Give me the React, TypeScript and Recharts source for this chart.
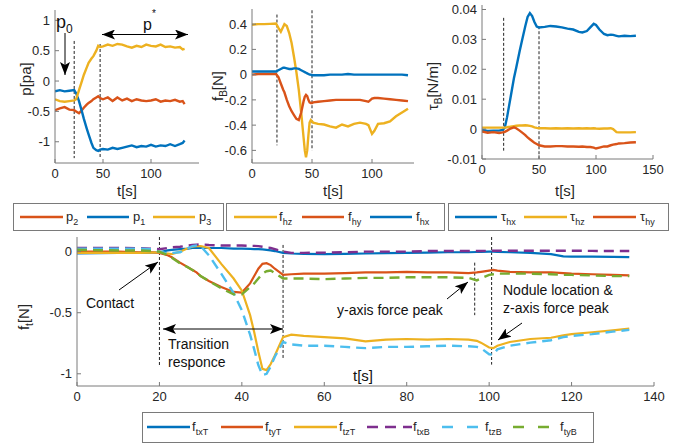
import React from 'react';
import { LineChart, Line, XAxis, YAxis, ReferenceLine } from 'recharts';

// ---------- data: top-left (pressure) ----------
const T_P = [0,5,10,15,20,22,25,28,30,33,35,38,40,43,45,47,50,55,60,65,70,75,80,85,90,95,100,105,110,115,120,125,130,133,135];
const P2 = [-0.48,-0.45,-0.43,-0.47,-0.48,-0.5,-0.53,-0.48,-0.44,-0.39,-0.36,-0.33,-0.3,-0.27,-0.25,-0.28,-0.3,-0.27,-0.33,-0.27,-0.32,-0.29,-0.33,-0.3,-0.32,-0.33,-0.32,-0.3,-0.34,-0.32,-0.33,-0.31,-0.34,-0.33,-0.38];
const P1 = [-0.17,-0.15,-0.17,-0.16,-0.15,-0.2,-0.33,-0.5,-0.62,-0.78,-0.88,-1.02,-1.1,-1.14,-1.15,-1.13,-1.12,-1.13,-1.1,-1.12,-1.1,-1.08,-1.06,-1.09,-1.07,-1.08,-1.05,-1.08,-1.06,-1.07,-1.04,-1.07,-1.04,-1.02,-0.98];
const P3 = [-0.3,-0.33,-0.34,-0.33,-0.32,-0.3,-0.15,0.0,0.1,0.22,0.3,0.37,0.41,0.5,0.58,0.56,0.57,0.6,0.58,0.61,0.6,0.57,0.55,0.58,0.56,0.6,0.58,0.57,0.6,0.56,0.57,0.55,0.56,0.52,0.53];

// ---------- data: top-middle (f_B) ----------
const T_F = [0,5,10,15,20,22,24,26,27,29,31,33,35,37,39,41,43,44,45,46,47,48,49,50,51,55,60,65,70,75,80,85,90,95,97,100,102,105,110,115,120,125,130];
const FHZ = [0.395,0.4,0.4,0.402,0.405,0.37,0.34,0.38,0.4,0.385,0.33,0.25,0.14,0.02,-0.12,-0.3,-0.5,-0.6,-0.655,-0.6,-0.48,-0.38,-0.36,-0.37,-0.38,-0.39,-0.395,-0.41,-0.42,-0.395,-0.41,-0.39,-0.38,-0.39,-0.4,-0.47,-0.445,-0.39,-0.385,-0.37,-0.33,-0.3,-0.27];
const FHY = [0.0,0.005,0.005,0.005,0.005,-0.02,-0.07,-0.12,-0.14,-0.2,-0.25,-0.29,-0.32,-0.35,-0.36,-0.3,-0.21,-0.175,-0.16,-0.17,-0.2,-0.22,-0.225,-0.225,-0.22,-0.215,-0.21,-0.205,-0.2,-0.2,-0.2,-0.2,-0.2,-0.21,-0.215,-0.19,-0.185,-0.185,-0.19,-0.195,-0.2,-0.205,-0.21];
const FHX = [0.025,0.025,0.025,0.025,0.025,0.035,0.045,0.055,0.055,0.05,0.045,0.045,0.05,0.05,0.045,0.035,0.025,0.02,0.015,0.01,0.005,0.0,0.0,-0.005,-0.005,-0.005,-0.005,0.0,0.0,0.0,0.005,0.0,0.0,0.0,0.0,0.0,0.0,0.0,0.0,0.0,0.0,0.0,-0.005];

// ---------- data: top-right (tau_B) ----------
const T_T = [0,5,10,15,18,20,22,25,28,30,33,35,38,40,42,44,46,48,50,55,60,65,70,75,80,85,88,92,95,98,100,103,107,110,113,115,118,120,125,130,135];
const THX = [-0.0003,-0.0006,-0.0005,-0.0005,-0.0003,0.0005,0.004,0.0105,0.017,0.0205,0.026,0.0295,0.0345,0.0375,0.0388,0.0378,0.0358,0.0343,0.034,0.0342,0.0345,0.0343,0.034,0.0336,0.0333,0.0325,0.0323,0.0328,0.034,0.0352,0.0348,0.0333,0.0318,0.0314,0.0316,0.0315,0.0312,0.031,0.0312,0.0311,0.0312];
const THZ = [0.0005,0.0005,0.0005,0.0005,0.0005,0.0005,0.0006,0.0008,0.001,0.0011,0.0012,0.0012,0.0013,0.0012,0.0011,0.0009,0.0006,0.0004,0.0003,0.0003,0.0002,0.0003,0.0002,0.0003,0.0002,0.0003,0.0002,0.0003,0.0002,0.0003,0.0002,0.0001,0.0002,0.0002,0.0003,0.0,-0.001,-0.0011,-0.0011,-0.0011,-0.001];
const THY = [-0.0008,-0.0012,-0.001,-0.0013,-0.0011,-0.0009,-0.0005,0.0002,0.0006,0.0003,-0.0005,-0.0011,-0.002,-0.0028,-0.0034,-0.004,-0.0046,-0.005,-0.0054,-0.0058,-0.0058,-0.0057,-0.0057,-0.0058,-0.0058,-0.0059,-0.0058,-0.006,-0.006,-0.0062,-0.0065,-0.0062,-0.0058,-0.0058,-0.0054,-0.0052,-0.005,-0.0048,-0.0047,-0.0045,-0.0044];

// ---------- data: bottom (f_t) ----------
const T_B = [0,5,10,15,18,20,22,23,25,27,28,29,30,32,35,38,40,42,43,44,45,46,47,48,50,52,55,60,65,70,75,80,85,90,95,97,98,100,101,102,105,110,115,118,120,125,130,134];
const FTXT = [-0.015,-0.012,-0.01,-0.01,-0.008,-0.005,0.01,0.015,0.02,0.025,0.03,0.03,0.03,0.03,0.03,0.025,0.025,0.022,0.02,0.02,0.018,0.015,0.01,0.005,-0.01,-0.015,-0.018,-0.02,-0.018,-0.015,-0.012,-0.01,-0.008,-0.005,-0.005,-0.003,-0.002,0.0,0.0,-0.002,-0.005,-0.01,-0.02,-0.038,-0.04,-0.04,-0.042,-0.045];
const FTYT = [0,0,0,-0.005,-0.005,-0.01,-0.03,-0.045,-0.09,-0.13,-0.15,-0.17,-0.2,-0.24,-0.29,-0.33,-0.335,-0.26,-0.2,-0.14,-0.1,-0.095,-0.11,-0.14,-0.19,-0.185,-0.18,-0.18,-0.175,-0.17,-0.17,-0.165,-0.17,-0.17,-0.175,-0.17,-0.165,-0.155,-0.15,-0.155,-0.165,-0.17,-0.17,-0.175,-0.18,-0.185,-0.19,-0.195];
const FTZT = [-0.01,-0.01,-0.01,-0.01,-0.008,-0.005,-0.015,-0.02,0.0,0.03,0.04,0.045,0.045,0.03,-0.1,-0.22,-0.32,-0.52,-0.66,-0.82,-0.96,-0.97,-0.92,-0.85,-0.7,-0.68,-0.69,-0.7,-0.71,-0.735,-0.72,-0.715,-0.72,-0.715,-0.72,-0.73,-0.745,-0.785,-0.79,-0.77,-0.74,-0.715,-0.705,-0.685,-0.675,-0.66,-0.645,-0.63];
const FTXB = [0.03,0.03,0.03,0.028,0.025,0.02,0.03,0.035,0.04,0.05,0.055,0.058,0.06,0.055,0.05,0.05,0.05,0.048,0.047,0.045,0.04,0.035,0.03,0.02,0.0,-0.01,-0.01,-0.008,-0.005,0.0,0.0,0.0,0.005,0.005,0.005,0.005,0.005,0.008,0.008,0.008,0.008,0.008,0.008,0.008,0.008,0.006,0.005,0.005];
const FTZB = [0.025,0.025,0.025,0.025,0.02,0.0,-0.015,-0.01,-0.005,0.03,0.045,0.05,0.045,-0.03,-0.18,-0.34,-0.48,-0.68,-0.8,-0.93,-1.01,-1.0,-0.94,-0.86,-0.74,-0.76,-0.77,-0.77,-0.78,-0.79,-0.78,-0.78,-0.775,-0.77,-0.775,-0.78,-0.79,-0.84,-0.845,-0.8,-0.77,-0.745,-0.725,-0.7,-0.69,-0.675,-0.655,-0.64];
const FTYB = [0.015,0.012,0.01,0.01,0.005,0.0,-0.03,-0.05,-0.095,-0.13,-0.15,-0.17,-0.2,-0.24,-0.3,-0.35,-0.35,-0.29,-0.26,-0.22,-0.18,-0.16,-0.155,-0.175,-0.22,-0.22,-0.22,-0.225,-0.22,-0.215,-0.215,-0.21,-0.21,-0.21,-0.215,-0.235,-0.22,-0.19,-0.185,-0.18,-0.18,-0.18,-0.185,-0.19,-0.19,-0.195,-0.2,-0.2];

// ---------- ticks ----------
const TICKS_X_TL = [0, 50, 100];
const TICKS_Y_TL = [-1, -0.5, 0, 0.5, 1];
const TICKS_X_TM = [0, 50, 100];
const TICKS_Y_TM = [-0.6, -0.4, -0.2, 0, 0.2, 0.4];
const TICKS_X_TR = [0, 50, 100, 150];
const TICKS_Y_TR = [-0.01, 0, 0.01, 0.02, 0.03, 0.04];
const TICKS_X_B = [0, 20, 40, 60, 80, 100, 120, 140];
const TICKS_Y_B = [-1, -0.5, 0];

const BLUE = '#0072BD';
const RED = '#D95319';
const YEL = '#EDB120';
const PUR = '#7E2F8E';
const GRN = '#77AC30';
const CYA = '#4DBEEE';
const AX = '#7a7a7a';
const TXT = '#262626';
const FONT = '"Liberation Sans", Arial, sans-serif';
const W = 689;
const H = 447;

const build = (t: number[], cols: Record<string, number[]>) =>
  t.map((tv, i) => {
    const row: Record<string, number> = { t: tv };
    Object.keys(cols).forEach((k) => (row[k] = cols[k][i]));
    return row;
  });

type Series = { key: string; color: string; dash?: string; width?: number };
type Seg = { x: number; y1: number; y2: number };

function Panel(props: {
  x0: number; x1: number; y0: number; y1: number;
  xDomain: [number, number]; xTicks: number[];
  yDomain: [number, number]; yTicks: number[];
  data: any[]; series: Series[]; segs: Seg[];
}) {
  const { x0, x1, y0, y1, xDomain, xTicks, yDomain, yTicks, data, series, segs } = props;
  const tickStyle = { fill: TXT, fontSize: 13, fontFamily: FONT };
  return (
    <div style={{ position: 'absolute', left: 0, top: 0 }}>
      <LineChart width={W} height={H} data={data}
        margin={{ top: y0, left: x0 - 40, right: W - x1, bottom: H - y1 - 30 }}>
        <XAxis dataKey="t" type="number" domain={xDomain} ticks={xTicks} interval={0}
          allowDataOverflow height={30} tickSize={-4} tickMargin={9.5} stroke={AX} tick={tickStyle} />
        <XAxis xAxisId="top" orientation="top" dataKey="t" type="number" domain={xDomain} ticks={xTicks}
          interval={0} allowDataOverflow height={0} tickSize={-4} tickFormatter={() => ''} stroke={AX} />
        <YAxis type="number" domain={yDomain} ticks={yTicks} interval={0} allowDataOverflow width={40}
          tickSize={-4} tickMargin={9} stroke={AX} tick={tickStyle} />
        <YAxis yAxisId="right" orientation="right" type="number" domain={yDomain} ticks={yTicks} interval={0}
          allowDataOverflow width={0} tickSize={-4} tickFormatter={() => ''} stroke={AX} />
        {segs.map((s, i) => (
          <ReferenceLine key={'s' + i} segment={[{ x: s.x, y: s.y1 }, { x: s.x, y: s.y2 }]}
            stroke="#222" strokeWidth={1} strokeDasharray="3 2" />
        ))}
        {series.map((s) => (
          <Line key={s.key} dataKey={s.key} stroke={s.color} strokeWidth={s.width ?? 2.4}
            strokeDasharray={s.dash} dot={false} isAnimationActive={false} type="linear" />
        ))}
      </LineChart>
    </div>
  );
}

function Sub({ x, y, main, sub, size = 13, subSize = 9, anchor = 'start', fill = TXT }: any) {
  return (
    <text x={x} y={y} fontSize={size} fontFamily={FONT} fill={fill} textAnchor={anchor}>
      {main}
      <tspan fontSize={subSize} dy={4}>{sub}</tspan>
    </text>
  );
}

function LegItem({ x1, x2, y, color, dash, main, sub, tx }: any) {
  return (
    <g>
      <line x1={x1} y1={y} x2={x2} y2={y} stroke={color} strokeWidth={2.5} strokeDasharray={dash} />
      <Sub x={tx} y={y + 4} main={main} sub={sub} size={13} subSize={9} />
    </g>
  );
}

function Overlay() {
  const lab = { fontSize: 15, fontFamily: FONT, fill: TXT };
  const ann = { fontSize: 14, fontFamily: FONT, fill: '#111' };
  return (
    <svg width={W} height={H} style={{ position: 'absolute', left: 0, top: 0, pointerEvents: 'none' }}>
      <defs>
        <marker id="ah" markerUnits="userSpaceOnUse" markerWidth={13} markerHeight={10} refX={13} refY={5}
          orient="auto-start-reverse">
          <path d="M0,0 L13,5 L0,10 L3,5 Z" fill="#000" />
        </marker>
      </defs>
      {/* axis labels */}
      <text x={127} y={196} textAnchor="middle" {...lab}>t[s]</text>
      <text x={333} y={196} textAnchor="middle" {...lab}>t[s]</text>
      <text x={565} y={196} textAnchor="middle" {...lab}>t[s]</text>
      <text x={353} y={381} {...ann} fontSize={15}>t[s]</text>
      <text transform="translate(31,79) rotate(-90)" textAnchor="middle" {...lab}>p[pa]</text>
      <text transform="translate(223,86) rotate(-90)" textAnchor="middle" {...lab}>
        f<tspan fontSize={10} dy={4}>B</tspan><tspan dy={-4}>[N]</tspan>
      </text>
      <text transform="translate(438,86) rotate(-90)" textAnchor="middle" {...lab}>
        τ<tspan fontSize={10} dy={4}>B</tspan><tspan dy={-4}>[N/m]</tspan>
      </text>
      <text transform="translate(29,317) rotate(-90)" textAnchor="middle" {...lab}>
        f<tspan fontSize={10} dy={4}>t</tspan><tspan dy={-4}>[N]</tspan>
      </text>

      {/* top-left annotations */}
      <text x={56} y={28} fontSize={18} fontFamily={FONT} fill="#111">
        p<tspan fontSize={12} dy={5}>0</tspan>
      </text>
      <line x1={65} y1={33} x2={65} y2={75} stroke="#000" strokeWidth={1} markerEnd="url(#ah)" />
      <text x={143} y={30} fontSize={16} fontFamily={FONT} fill="#111">
        p<tspan fontSize={10} dy={-13}>*</tspan>
      </text>
      <line x1={102} y1={34.5} x2={188} y2={34.5} stroke="#000" strokeWidth={1}
        markerStart="url(#ah)" markerEnd="url(#ah)" />

      {/* bottom annotations */}
      <text x={86} y={308} {...ann}>Contact</text>
      <line x1={119} y1={290} x2={158} y2={262} stroke="#000" strokeWidth={1} markerEnd="url(#ah)" />
      <line x1={163} y1={329} x2={283} y2={329} stroke="#000" strokeWidth={1}
        markerStart="url(#ah)" markerEnd="url(#ah)" />
      <text x={168} y={349} {...ann}>Transition</text>
      <text x={168} y={367} {...ann}>responce</text>
      <text x={337} y={315} {...ann}>y-axis force peak</text>
      <line x1={447} y1={299} x2={468} y2={282} stroke="#000" strokeWidth={1} markerEnd="url(#ah)" />
      <text x={503} y={295} {...ann}>Nodule location &amp;</text>
      <text x={503} y={313} {...ann}>z-axis force peak</text>
      <line x1={522} y1={323} x2={498} y2={340} stroke="#000" strokeWidth={1} markerEnd="url(#ah)" />

      {/* legend row */}
      <rect x={13.5} y={203.5} width={210} height={27} fill="#fff" stroke={AX} />
      <LegItem x1={20} x2={63} y={217} color={RED} main="p" sub="2" tx={66} />
      <LegItem x1={87} x2={129} y={217} color={BLUE} main="p" sub="1" tx={133} />
      <LegItem x1={153} x2={195} y={217} color={YEL} main="p" sub="3" tx={199} />

      <rect x={226.5} y={203.5} width={218} height={27} fill="#fff" stroke={AX} />
      <LegItem x1={234} x2={277} y={217} color={YEL} main="f" sub="hz" tx={279} />
      <LegItem x1={302} x2={344} y={217} color={RED} main="f" sub="hy" tx={348} />
      <LegItem x1={370} x2={412} y={217} color={BLUE} main="f" sub="hx" tx={416} />

      <rect x={448.5} y={203.5} width={220} height={27} fill="#fff" stroke={AX} />
      <LegItem x1={455} x2={497} y={217} color={BLUE} main="τ" sub="hx" tx={501} />
      <LegItem x1={524} x2={567} y={217} color={YEL} main="τ" sub="hz" tx={570} />
      <LegItem x1={593} x2={636} y={217} color={RED} main="τ" sub="hy" tx={640} />

      {/* bottom legend */}
      <rect x={142.5} y={412.5} width={451} height={30} fill="#fff" stroke={AX} />
      <LegItem x1={147} x2={190} y={427} color={BLUE} main="f" sub="txT" tx={192} />
      <LegItem x1={221} x2={263} y={427} color={RED} main="f" sub="tyT" tx={265} />
      <LegItem x1={294} x2={337} y={427} color={YEL} main="f" sub="tzT" tx={339} />
      <LegItem x1={367} x2={412} y={427} color={PUR} dash="11 7" main="f" sub="txB" tx={413} />
      <LegItem x1={442} x2={480} y={427} color={CYA} dash="11 14" main="f" sub="tzB" tx={485} />
      <LegItem x1={513} x2={550} y={427} color={GRN} dash="11 14" main="f" sub="tyB" tx={560} />
    </svg>
  );
}

export default function App() {
  const dP = build(T_P, { p2: P2, p1: P1, p3: P3 });
  const dF = build(T_F, { fhz: FHZ, fhy: FHY, fhx: FHX });
  const dT = build(T_T, { thx: THX, thz: THZ, thy: THY });
  const dB = build(T_B, { ftxT: FTXT, ftyT: FTYT, ftzT: FTZT, ftxB: FTXB, ftzB: FTZB, ftyB: FTYB });
  return (
    <div style={{ position: 'absolute', left: 0, top: 0, width: W, height: H, background: '#fff', fontFamily: FONT, overflow: 'hidden' }}>
      <Panel x0={55} x1={199} y0={10} y1={163} xDomain={[0, 150]} xTicks={TICKS_X_TL}
        yDomain={[-1.35, 1.17]} yTicks={TICKS_Y_TL} data={dP}
        series={[{ key: 'p2', color: RED }, { key: 'p1', color: BLUE }, { key: 'p3', color: YEL }]}
        segs={[{ x: 20, y1: 0.66, y2: -1.27 }, { x: 47, y1: 0.61, y2: -1.27 }]} />
      <Panel x0={252} x1={414} y0={9} y1={163} xDomain={[0, 135]} xTicks={TICKS_X_TM}
        yDomain={[-0.7, 0.52]} yTicks={TICKS_Y_TM} data={dF}
        series={[{ key: 'fhz', color: YEL }, { key: 'fhy', color: RED }, { key: 'fhx', color: BLUE }]}
        segs={[{ x: 20.8, y1: 0.476, y2: -0.56 }, { x: 50, y1: 0.51, y2: -0.6 }]} />
      <Panel x0={482} x1={653} y0={5} y1={159} xDomain={[0, 150]} xTicks={TICKS_X_TR}
        yDomain={[-0.01, 0.0415]} yTicks={TICKS_Y_TR} data={dT}
        series={[{ key: 'thx', color: BLUE }, { key: 'thz', color: YEL }, { key: 'thy', color: RED }]}
        segs={[{ x: 19, y1: 0.0372, y2: -0.0072 }, { x: 50, y1: 0.0344, y2: -0.01 }]} />
      <Panel x0={77} x1={654} y0={237} y1={386} xDomain={[0, 140]} xTicks={TICKS_X_B}
        yDomain={[-1.1, 0.12]} yTicks={TICKS_Y_B} data={dB}
        series={[
          { key: 'ftxT', color: BLUE, width: 2.2 },
          { key: 'ftyT', color: RED, width: 2.2 },
          { key: 'ftzT', color: YEL, width: 2.2 },
          { key: 'ftxB', color: PUR, dash: '10 6', width: 2.4 },
          { key: 'ftzB', color: CYA, dash: '10 6', width: 2.4 },
          { key: 'ftyB', color: GRN, dash: '10 6', width: 2.4 },
        ]}
        segs={[
          { x: 20, y1: 0.12, y2: -0.93 },
          { x: 50, y1: 0.055, y2: -0.885 },
          { x: 96.5, y1: -0.09, y2: -0.52 },
          { x: 100.6, y1: 0.12, y2: -0.925 },
        ]} />
      <Overlay />
    </div>
  );
}
